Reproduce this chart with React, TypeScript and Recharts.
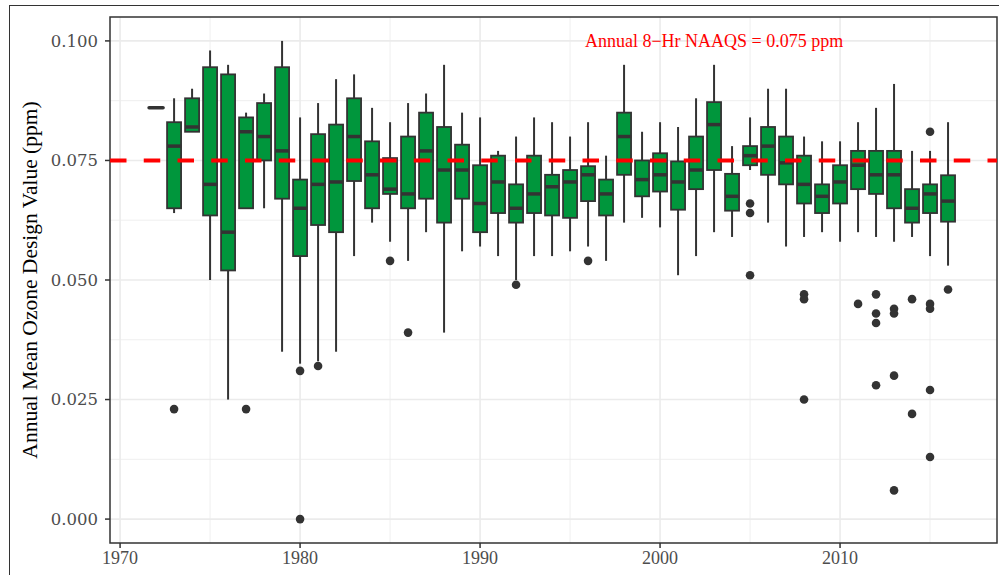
import {
  ComposedChart,
  Bar,
  Scatter,
  XAxis,
  YAxis,
  CartesianGrid,
  ReferenceLine,
  ReferenceArea,
} from "recharts";

// yearly box statistics (ppm)
const years = [
  1972, 1973, 1974, 1975, 1976, 1977, 1978, 1979, 1980, 1981, 1982, 1983, 1984, 1985, 1986,
  1987, 1988, 1989, 1990, 1991, 1992, 1993, 1994, 1995, 1996, 1997, 1998, 1999, 2000, 2001,
  2002, 2003, 2004, 2005, 2006, 2007, 2008, 2009, 2010, 2011, 2012, 2013, 2014, 2015, 2016,
];
const whiskerLow = [
  0.086, 0.064, 0.081, 0.05, 0.025, 0.065, 0.065, 0.035, 0.0325, 0.033, 0.035, 0.055, 0.062, 0.058, 0.054,
  0.06, 0.039, 0.056, 0.057, 0.055, 0.05, 0.055, 0.055, 0.056, 0.057, 0.054, 0.062, 0.063, 0.061, 0.051,
  0.055, 0.06, 0.059, 0.073, 0.062, 0.057, 0.059, 0.06, 0.058, 0.06, 0.059, 0.058, 0.059, 0.055, 0.053,
];
const lowerHinge = [
  0.086, 0.065, 0.081, 0.0635, 0.052, 0.065, 0.075, 0.067, 0.055, 0.0615, 0.06, 0.0707, 0.065, 0.068, 0.065,
  0.067, 0.062, 0.067, 0.06, 0.064, 0.062, 0.064, 0.0635, 0.063, 0.0665, 0.0635, 0.072, 0.0675, 0.0685, 0.0647,
  0.069, 0.073, 0.0645, 0.074, 0.072, 0.07, 0.066, 0.064, 0.066, 0.069, 0.068, 0.065, 0.062, 0.064, 0.0622,
];
const medians = [
  0.086, 0.078, 0.082, 0.07, 0.06, 0.081, 0.08, 0.077, 0.065, 0.07, 0.0705, 0.08, 0.072, 0.069, 0.068,
  0.077, 0.073, 0.073, 0.066, 0.0705, 0.065, 0.068, 0.0695, 0.0705, 0.072, 0.068, 0.08, 0.071, 0.072, 0.0705,
  0.073, 0.0825, 0.0675, 0.076, 0.078, 0.0745, 0.07, 0.0675, 0.0705, 0.074, 0.072, 0.072, 0.065, 0.068, 0.0665,
];
const upperHinge = [
  0.086, 0.083, 0.088, 0.0945, 0.093, 0.084, 0.087, 0.0945, 0.071, 0.0805, 0.0825, 0.088, 0.079, 0.0755, 0.08,
  0.085, 0.082, 0.0783, 0.074, 0.076, 0.07, 0.076, 0.072, 0.073, 0.0738, 0.071, 0.085, 0.075, 0.0765, 0.0748,
  0.08, 0.0872, 0.0722, 0.078, 0.082, 0.08, 0.076, 0.07, 0.074, 0.077, 0.077, 0.077, 0.069, 0.07, 0.0719,
];
const whiskerHigh = [
  0.086, 0.088, 0.09, 0.098, 0.095, 0.085, 0.089, 0.1, 0.084, 0.087, 0.092, 0.093, 0.086, 0.083, 0.087,
  0.089, 0.095, 0.085, 0.084, 0.077, 0.08, 0.084, 0.083, 0.08, 0.083, 0.076, 0.095, 0.081, 0.083, 0.082,
  0.088, 0.095, 0.078, 0.084, 0.09, 0.09, 0.08, 0.079, 0.079, 0.083, 0.086, 0.091, 0.077, 0.077, 0.083,
];

const outlierYears = [
  1973, 1977, 1980, 1980, 1981, 1985, 1986, 1992, 1996, 2005, 2005, 2005, 2008, 2008, 2008, 2011,
  2012, 2012, 2012, 2012, 2013, 2013, 2013, 2013, 2014, 2014, 2015, 2015, 2015, 2015, 2015, 2016,
];
const outlierValues = [
  0.023, 0.023, 0.031, 0.0, 0.032, 0.054, 0.039, 0.049, 0.054, 0.066, 0.064, 0.051, 0.047, 0.046, 0.025, 0.045,
  0.047, 0.043, 0.041, 0.028, 0.044, 0.043, 0.03, 0.006, 0.046, 0.022, 0.081, 0.045, 0.044, 0.027, 0.013, 0.048,
];

const xTicks = [1970, 1980, 1990, 2000, 2010];
const xMinor = [1975, 1985, 1995, 2005, 2015];
const yTicks = [0, 0.025, 0.05, 0.075, 0.1];
const yMinor = [0.0125, 0.0375, 0.0625, 0.0875];
const xDomain = [1969.44, 2018.72];
const yDomain = [-0.005, 0.105];

const standard = 0.075;
const noteX = [2003];
const noteY = [0.1];
const noteText = "Annual 8\u2212Hr NAAQS = 0.075 ppm";
const yTitle = "Annual Mean Ozone Design Value (ppm)";

const FONT = '"Liberation Serif", serif';
const WIDE_FONT = '"DejaVu Serif", serif';
const BOX_FILL = "#00963C";
const INK = "#333333";

const boxData = years.map((year, i) => ({
  year,
  range: [whiskerLow[i], whiskerHigh[i]],
  lo: whiskerLow[i],
  q1: lowerHinge[i],
  med: medians[i],
  q3: upperHinge[i],
  hi: whiskerHigh[i],
}));

const outlierData = outlierYears.map((year, i) => ({ year, value: outlierValues[i] }));
const noteData = noteX.map((year, i) => ({ year, value: noteY[i], text: noteText }));

// bar spans the whiskers; hinges and median are placed on the same pixel scale
function BoxShape(props: any) {
  const { x, y, width, height, payload } = props;
  if (x == null || y == null) return null;
  const cx = x + width / 2;
  const half = 7;
  const k = payload.hi > payload.lo ? height / (payload.hi - payload.lo) : 0;
  const py = (v: number) => y + (payload.hi - v) * k;
  const top = py(payload.q3);
  const bot = py(payload.q1);
  return (
    <g>
      <line x1={cx} x2={cx} y1={py(payload.hi)} y2={top} stroke={INK} strokeWidth={2} />
      <line x1={cx} x2={cx} y1={bot} y2={py(payload.lo)} stroke={INK} strokeWidth={2} />
      <rect x={cx - half} y={top} width={half * 2} height={Math.max(bot - top, 0)} fill={BOX_FILL} stroke={INK} strokeWidth={1.8} />
      <line
        x1={cx - half}
        x2={cx + half}
        y1={py(payload.med)}
        y2={py(payload.med)}
        stroke={INK}
        strokeWidth={3.5}
        strokeLinecap={bot - top < 1 ? "round" : "butt"}
      />
    </g>
  );
}

function OutlierDot(props: any) {
  const { cx, cy } = props;
  return <circle cx={cx} cy={cy} r={4.3} fill={INK} />;
}

function NoteText(props: any) {
  const { cx, cy, payload } = props;
  return (
    <text x={cx} y={cy} textAnchor="middle" dominantBaseline="central" fill="#FF0000" fontSize={18} fontFamily={FONT}>
      {payload.text}
    </text>
  );
}

export default function App() {
  const xTickStyle = { fill: "#4D4D4D", fontSize: 18, fontFamily: FONT };
  const yTickStyle = { fill: "#4D4D4D", fontSize: 16.5, fontFamily: WIDE_FONT };
  return (
    <div style={{ position: "absolute", left: 0, top: 0, width: 999, height: 575, background: "#fff", overflow: "hidden" }}>
      <div
        style={{
          position: "absolute",
          left: 9,
          top: 5,
          width: 1000,
          height: 600,
          borderTop: `1.5px solid ${INK}`,
          borderLeft: `1.5px solid ${INK}`,
        }}
      />
      <ComposedChart
        width={999}
        height={575}
        data={boxData}
        margin={{ top: 17, right: 2, bottom: 0, left: 0 }}
        style={{ position: "absolute", left: 0, top: 0 }}
      >
        <CartesianGrid stroke="#EBEBEB" strokeWidth={0.8} horizontalValues={yMinor} verticalValues={xMinor} />
        <CartesianGrid stroke="#EBEBEB" strokeWidth={1.6} horizontalValues={yTicks} verticalValues={xTicks} />
        <XAxis
          dataKey="year"
          type="number"
          domain={xDomain}
          allowDataOverflow
          ticks={xTicks}
          height={32}
          tickSize={5}
          tickMargin={3}
          axisLine={false}
          tickLine={{ stroke: INK, strokeWidth: 1.5 }}
          tick={xTickStyle}
        />
        <YAxis
          type="number"
          domain={yDomain}
          allowDataOverflow
          ticks={yTicks}
          tickFormatter={(v: number) => v.toFixed(3)}
          width={110}
          tickSize={5}
          tickMargin={7}
          axisLine={false}
          tickLine={{ stroke: INK, strokeWidth: 1.5 }}
          tick={yTickStyle}
          label={{
            value: yTitle,
            angle: -90,
            position: "insideLeft",
            offset: 29,
            style: { textAnchor: "middle", fill: "#000", fontSize: 21.5, fontFamily: FONT },
          }}
        />
        <Bar dataKey="range" barSize={14} shape={<BoxShape />} isAnimationActive={false} />
        <Scatter data={outlierData} dataKey="value" shape={<OutlierDot />} isAnimationActive={false} />
        <ReferenceLine y={standard} stroke="#FF0000" strokeWidth={4} strokeDasharray="16.5 17.25" />
        <Scatter data={noteData} dataKey="value" shape={<NoteText />} isAnimationActive={false} />
        <ReferenceArea
          x1={xDomain[0]}
          x2={xDomain[1]}
          y1={yDomain[0]}
          y2={yDomain[1]}
          fill="none"
          fillOpacity={0}
          stroke={INK}
          strokeWidth={1.5}
        />
      </ComposedChart>
    </div>
  );
}
